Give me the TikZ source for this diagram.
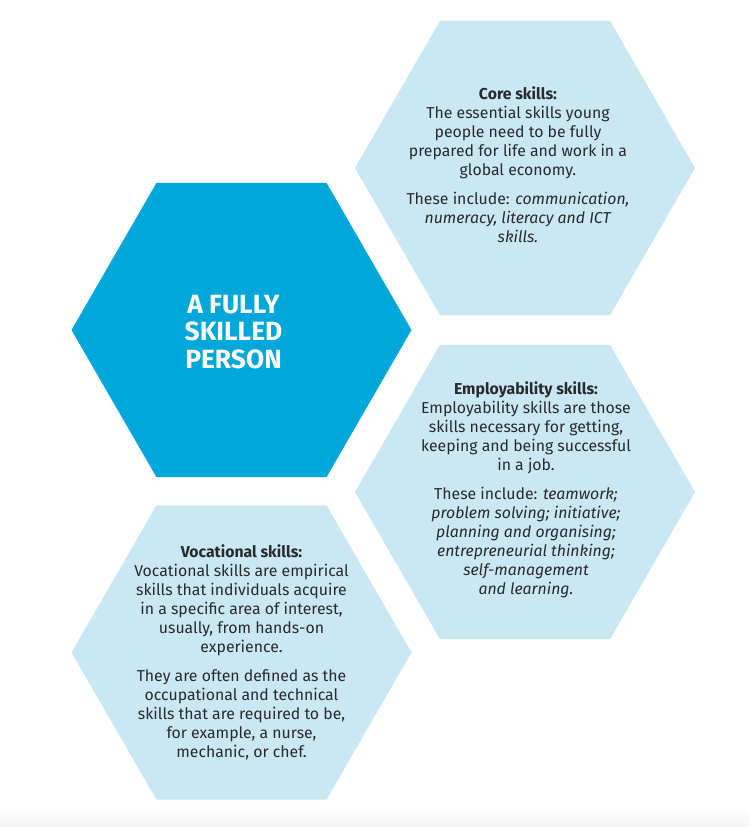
\documentclass[tikz,border=0pt]{standalone}
\usepackage{fontspec}
\setmainfont{Fira Sans}
\usepackage{tikz}
\usetikzlibrary{shapes.geometric}
\definecolor{hexdark}{HTML}{00A7DB}
\definecolor{hexlight}{HTML}{C9E8F3}
\definecolor{inktext}{HTML}{2A2A2A}

\begin{document}
\begin{tikzpicture}[
  hexbig/.style={regular polygon,regular polygon sides=6,minimum size=6.8cm,inner sep=0pt,fill=hexdark},
  hexsmall/.style={regular polygon,regular polygon sides=6,minimum size=6.8cm,inner sep=0pt,fill=hexlight},
  skilltext/.style={align=center,text=inktext,font=\fontsize{9pt}{10.8pt}\selectfont}
]
\useasboundingbox (0,0) rectangle (14.98,-16.54);
\shade[top color=white,bottom color=black!4] (0,-16.1) rectangle (14.98,-16.54);

\draw (4.83,-6.6)node[hexbig] (person){};
\draw (10.5,-3.36)node[hexsmall] (core){};
\draw (10.5,-9.84)node[hexsmall] (employ){};
\draw (4.83,-13.05)node[hexsmall] (vocational){};

\draw (4.67,-6.64)node[align=center,text=white,font=\fontsize{15pt}{15.5pt}\selectfont\bfseries] (persontxt){A FULLY\\SKILLED\\PERSON};
\draw (10.36,-3.3)node[skilltext] (coretxt){\textbf{Core skills:}\\The essential skills young\\people need to be fully\\prepared for life and work in a\\global economy.\\[0.2cm]These include: \textit{communication,}\\\textit{numeracy, literacy and ICT}\\\textit{skills.}};
\draw (10.52,-9.8)node[skilltext] (employtxt){\textbf{Employability skills:}\\Employability skills are those\\skills necessary for getting,\\keeping and being successful\\in a job.\\[0.2cm]These include: \textit{teamwork;}\\\textit{problem solving; initiative;}\\\textit{planning and organising;}\\\textit{entrepreneurial thinking;}\\\textit{self-management}\\\textit{and learning.}};
\draw (4.83,-13.05)node[skilltext] (vocationaltxt){\textbf{Vocational skills:}\\Vocational skills are empirical\\skills that individuals acquire\\in a specific area of interest,\\usually, from hands-on\\experience.\\[0.2cm]They are often defined as the\\occupational and technical\\skills that are required to be,\\for example, a nurse,\\mechanic, or chef.};
\end{tikzpicture}
\end{document}
